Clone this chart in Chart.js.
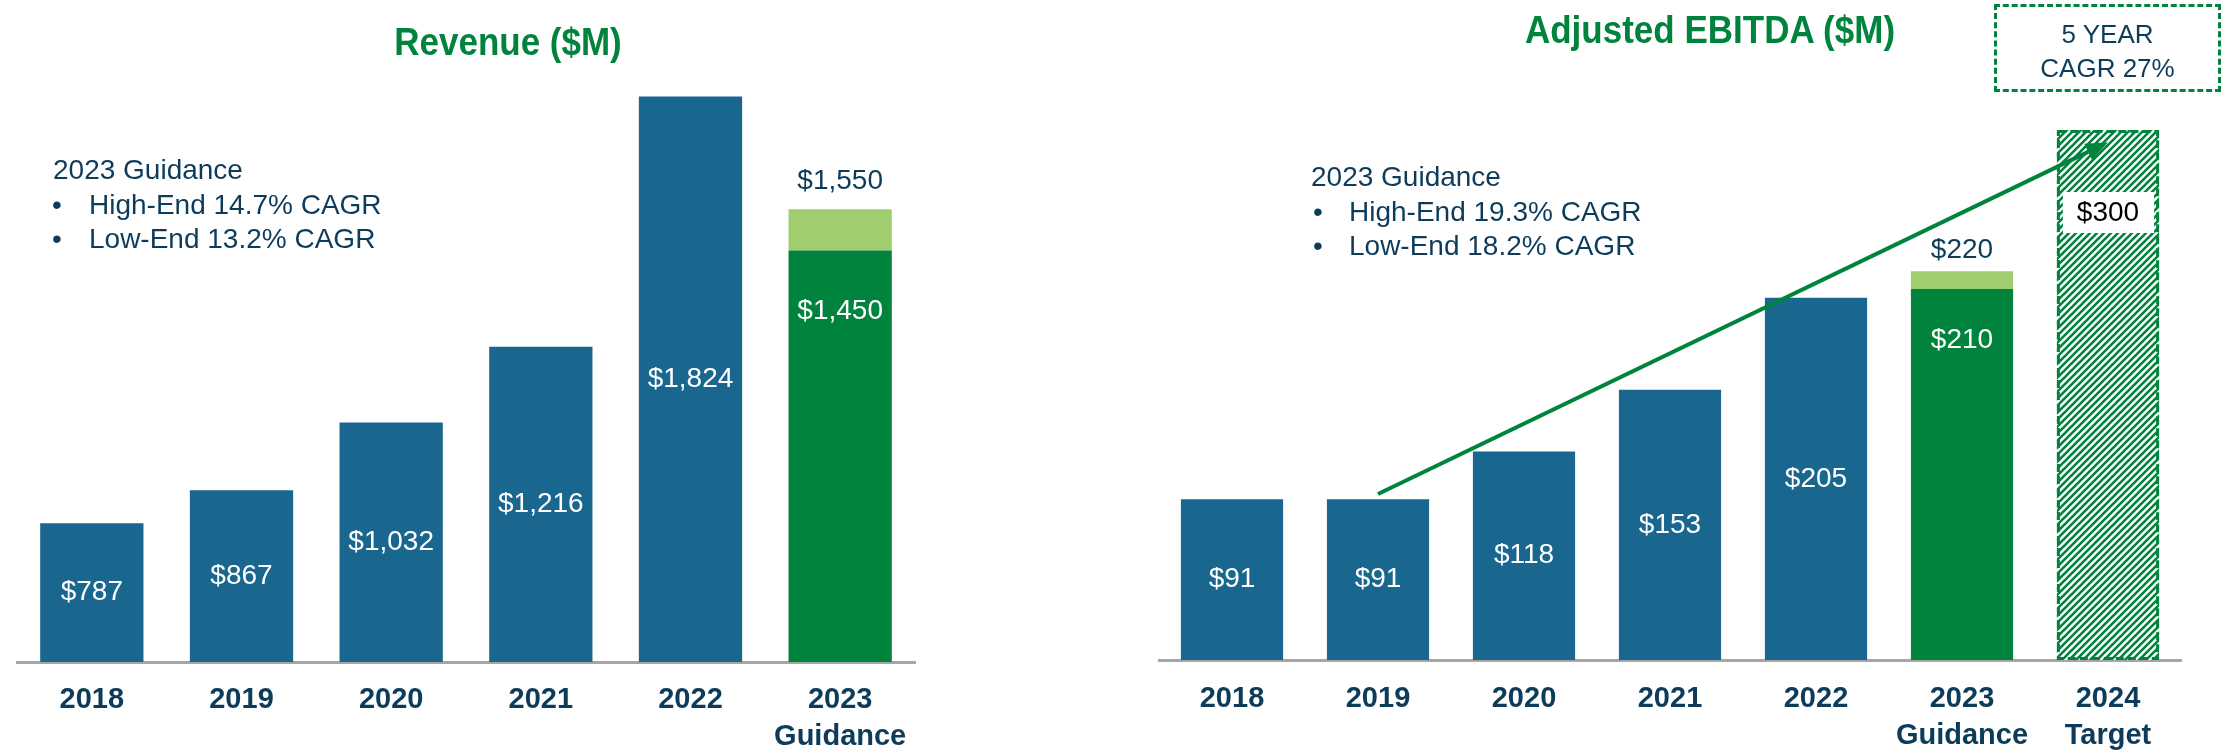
<!DOCTYPE html>
<html>
<head>
<meta charset="utf-8">
<script src="https://cdn.jsdelivr.net/npm/chart.js@4.4.0/dist/chart.umd.min.js"></script>
<style>
  body { margin: 0; width: 2224px; height: 751px; background: #fff; position: relative; overflow: hidden;
         font-family: "Liberation Sans", Arial, sans-serif; }
  canvas { position: absolute; top: 0; }
  #revenueChart { left: 0; }
  #ebitdaChart { left: 1140px; }
  .title { position: absolute; color: #00843d; font-weight: bold; font-size: 35px; line-height: 40px;
           white-space: nowrap; transform: translateX(-50%) scaleY(1.1); }
  .note { position: absolute; color: #0d3c5b; font-size: 28px; line-height: 34px; white-space: nowrap; }
  .cagr { position: absolute; left: 1994px; top: 4px; width: 227px; height: 88px; box-sizing: border-box;
          border: 3px dashed #00843d; color: #0d3c5b; font-size: 26px; line-height: 34px; text-align: center;
          padding-top: 10px; }
</style>
</head>
<body>
<canvas id="revenueChart" width="940" height="751"></canvas>
<canvas id="ebitdaChart" width="1084" height="751"></canvas>

<div class="title" style="left:508px; top:22px;">Revenue ($M)</div>
<div class="title" style="left:1710px; top:10px;">Adjusted EBITDA ($M)</div>

<div class="note" style="left:53px; top:153px;">2023 Guidance</div>
<div class="note" style="left:52px; top:188px;">•</div>
<div class="note" style="left:89px; top:188px;">High-End 14.7% CAGR</div>
<div class="note" style="left:52px; top:222px;">•</div>
<div class="note" style="left:89px; top:222px;">Low-End 13.2% CAGR</div>

<div class="note" style="left:1311px; top:160px;">2023 Guidance</div>
<div class="note" style="left:1313px; top:195px;">•</div>
<div class="note" style="left:1349px; top:195px;">High-End 19.3% CAGR</div>
<div class="note" style="left:1313px; top:229px;">•</div>
<div class="note" style="left:1349px; top:229px;">Low-End 18.2% CAGR</div>

<div class="cagr">5 YEAR<br>CAGR 27%</div>

<script>
// Revenue ($M)
const revLabels = ['2018', '2019', '2020', '2021', '2022', ['2023', 'Guidance']];
const revenue = [787, 867, 1032, 1216, 1824, 1450];
const revenueHigh = 1550; // 2023 guidance high end

// Adjusted EBITDA ($M)
const ebitdaLabels = ['2018', '2019', '2020', '2021', '2022', ['2023', 'Guidance'], ['2024', 'Target']];
const ebitda = [91, 91, 118, 153, 205, 210, 300];
const ebitdaHigh = 220; // 2023 guidance high end

// CAGR arrow, from 2019 to the 2024 target (category index, value)
const arrowFrom = [1, 94];
const arrowTo = [6, 293];

const BLUE = '#19668f';
const GREEN = '#00843d';
const LIGHT = '#a0cd6e';
const NAVY = '#0d3c5b';
const FONT = '"Liberation Sans", Arial, sans-serif';

const money = v => '$' + v.toLocaleString('en-US');

function xAxis(height, pad) {
  return {
    stacked: true,
    grid: { display: false, drawTicks: false },
    border: { display: true, color: '#a6a6a6', width: 3 },
    ticks: { color: NAVY, padding: pad, font: { family: FONT, size: 29, weight: 'bold', lineHeight: '37px' } },
    afterFit: scale => { scale.height = height; }
  };
}

// Labels for the revenue bars
const revenueLabelsPlugin = {
  id: 'revenueLabels',
  afterDatasetsDraw(chart) {
    const ctx = chart.ctx;
    const bottom = chart.chartArea.bottom;
    const bars = chart.getDatasetMeta(0).data;
    const highBars = chart.getDatasetMeta(1).data;
    const g = revenue.length - 1;
    ctx.save();
    ctx.font = '28px ' + FONT;
    ctx.textAlign = 'center';
    ctx.textBaseline = 'middle';
    bars.forEach((bar, i) => {
      ctx.fillStyle = '#fff';
      if (i === g) {
        ctx.fillText(money(revenue[i]), bar.x, bar.y + 61);
      } else {
        ctx.fillText(money(revenue[i]), bar.x, (bar.y + bottom) / 2);
      }
    });
    ctx.fillStyle = NAVY;
    ctx.fillText(money(revenueHigh), highBars[g].x, highBars[g].y - 28);
    ctx.restore();
  }
};

// Labels, target bar outline and arrow for the EBITDA chart
const ebitdaLabelsPlugin = {
  id: 'ebitdaLabels',
  afterDatasetsDraw(chart) {
    const ctx = chart.ctx;
    const bottom = chart.chartArea.bottom;
    const bars = chart.getDatasetMeta(0).data;
    const highBars = chart.getDatasetMeta(1).data;
    const g = 5, t = 6;
    ctx.save();
    ctx.font = '28px ' + FONT;
    ctx.textAlign = 'center';
    ctx.textBaseline = 'middle';
    for (let i = 0; i < g; i++) {
      const bar = bars[i];
      ctx.fillStyle = '#fff';
      ctx.fillText(money(ebitda[i]), bar.x, (bar.y + bottom) / 2);
    }
    ctx.fillStyle = '#fff';
    ctx.fillText(money(ebitda[g]), bars[g].x, bars[g].y + 51);
    ctx.fillStyle = NAVY;
    ctx.fillText(money(ebitdaHigh), highBars[g].x, highBars[g].y - 21);

    // target bar: dashed outline + white label box
    const tb = bars[t];
    const w = tb.width;
    ctx.setLineDash([8, 4]);
    ctx.strokeStyle = GREEN;
    ctx.lineWidth = 3;
    ctx.strokeRect(tb.x - w / 2 + 1.5, tb.y + 1.5, w - 3, bottom - tb.y - 3);
    ctx.setLineDash([]);
    ctx.fillStyle = '#fff';
    ctx.fillRect(tb.x - w / 2 + 6, tb.y + 62, w - 11, 41);
    ctx.fillStyle = '#000';
    ctx.fillText(money(ebitda[t]), tb.x, tb.y + 83);

    // CAGR arrow
    const xs = chart.scales.x, ys = chart.scales.y;
    const x1 = xs.getPixelForValue(arrowFrom[0]), y1 = ys.getPixelForValue(arrowFrom[1]);
    const x2 = xs.getPixelForValue(arrowTo[0]), y2 = ys.getPixelForValue(arrowTo[1]);
    const a = Math.atan2(y2 - y1, x2 - x1);
    const len = 22, half = 9;
    const bx = x2 - len * Math.cos(a), by = y2 - len * Math.sin(a);
    ctx.strokeStyle = GREEN;
    ctx.lineWidth = 4;
    ctx.beginPath();
    ctx.moveTo(x1, y1);
    ctx.lineTo(bx, by);
    ctx.stroke();
    ctx.fillStyle = GREEN;
    ctx.beginPath();
    ctx.moveTo(x2, y2);
    ctx.lineTo(bx + half * Math.sin(a), by - half * Math.cos(a));
    ctx.lineTo(bx - half * Math.sin(a), by + half * Math.cos(a));
    ctx.closePath();
    ctx.fill();
    ctx.restore();
  }
};

function stripePattern(ctx) {
  const c = document.createElement('canvas');
  c.width = 7; c.height = 7;
  const g = c.getContext('2d');
  g.fillStyle = '#fff';
  g.fillRect(0, 0, 7, 7);
  g.strokeStyle = GREEN;
  g.lineWidth = 2.6;
  g.beginPath();
  g.moveTo(-2, 9); g.lineTo(9, -2);
  g.moveTo(-2, 2); g.lineTo(2, -2);
  g.moveTo(5, 9); g.lineTo(9, 5);
  g.stroke();
  return ctx.createPattern(c, 'repeat');
}

Chart.defaults.font.family = FONT;

// Revenue chart
const gRev = revenue.length - 1;
new Chart(document.getElementById('revenueChart').getContext('2d'), {
  type: 'bar',
  data: {
    labels: revLabels,
    datasets: [{
      data: revenue,
      backgroundColor: revenue.map((v, i) => i === gRev ? GREEN : BLUE),
      barPercentage: 0.69,
      categoryPercentage: 1
    }, {
      data: revenue.map((v, i) => i === gRev ? revenueHigh - v : null),
      backgroundColor: LIGHT,
      barPercentage: 0.69,
      categoryPercentage: 1
    }]
  },
  options: {
    responsive: false,
    animation: false,
    devicePixelRatio: 1,
    layout: { padding: { left: 17, right: 25, top: 24, bottom: 0 } },
    plugins: { legend: { display: false }, tooltip: { enabled: false } },
    scales: {
      x: xAxis(89, 19),
      y: { display: false, stacked: true, min: 450, max: 2000 }
    }
  },
  plugins: [revenueLabelsPlugin]
});

// EBITDA chart
const ebCtx = document.getElementById('ebitdaChart').getContext('2d');
const stripes = stripePattern(ebCtx);
new Chart(ebCtx, {
  type: 'bar',
  data: {
    labels: ebitdaLabels,
    datasets: [{
      data: ebitda,
      backgroundColor: ebitda.map((v, i) => i === 6 ? stripes : (i === 5 ? GREEN : BLUE)),
      barPercentage: 0.70,
      categoryPercentage: 1
    }, {
      data: ebitda.map((v, i) => i === 5 ? ebitdaHigh - v : null),
      backgroundColor: LIGHT,
      barPercentage: 0.70,
      categoryPercentage: 1
    }]
  },
  options: {
    responsive: false,
    animation: false,
    devicePixelRatio: 1,
    layout: { padding: { left: 19, right: 43, top: 24, bottom: 0 } },
    plugins: { legend: { display: false }, tooltip: { enabled: false } },
    scales: {
      x: xAxis(91, 20),
      y: { display: false, stacked: true, min: 0, max: 360 }
    }
  },
  plugins: [ebitdaLabelsPlugin]
});
</script>
</body>
</html>
